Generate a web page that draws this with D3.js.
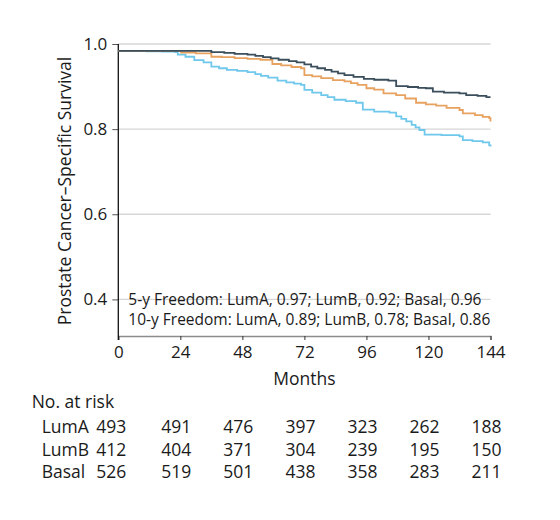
<!DOCTYPE html>
<html>
<head>
<meta charset="utf-8">
<script src="https://cdn.jsdelivr.net/npm/d3@7"></script>
<style>
  html, body { margin: 0; padding: 0; background: #fff; }
  svg { display: block; font-family: "Open Sans", sans-serif; }
</style>
</head>
<body>
<svg id="chart" width="560" height="520"></svg>
<script>
// ---- data ----
const lumaMonths = [0,36,41,45,50,53,56,59,62,66,69,72,74.6,77,80,82.5,85,87.5,91,95,99,104.5,107.5,112,116,119,121.7,126,132,134.6,139,142.4,144];
const lumaSurv   = [0.984,0.981,0.979,0.977,0.975,0.972,0.969,0.966,0.963,0.960,0.957,0.952,0.947,0.943,0.939,0.935,0.931,0.927,0.923,0.918,0.916,0.914,0.901,0.899,0.897,0.896,0.888,0.886,0.884,0.880,0.878,0.875,0.875];

const basalMonths = [0,24.3,30,36,40,45,50,55,59.6,63,67,70.7,72,75,78.5,83,87.5,90,92.6,96,99,102.6,107.5,111,115.2,119,123,127,132,133.3,138,141,143.5,144];
const basalSurv   = [0.984,0.980,0.978,0.970,0.969,0.967,0.965,0.963,0.953,0.950,0.946,0.943,0.927,0.924,0.920,0.915,0.912,0.908,0.904,0.896,0.893,0.884,0.880,0.872,0.862,0.858,0.855,0.850,0.845,0.837,0.833,0.829,0.826,0.818];

const lumbMonths = [0,11,17,22,23,26,29.4,33,36,39,42,46,50,53,55.2,58,61.6,65,68,70.7,72,75,78.5,81,83.6,88,92,94.6,99,104.9,107.5,109.5,111.4,113.5,115,116.5,118.5,125,132,133.3,137,141,143.5,144];
const lumbSurv   = [0.984,0.983,0.982,0.981,0.975,0.970,0.962,0.957,0.947,0.943,0.939,0.937,0.934,0.929,0.925,0.921,0.914,0.910,0.907,0.904,0.892,0.886,0.880,0.875,0.869,0.866,0.862,0.846,0.841,0.839,0.830,0.824,0.818,0.810,0.804,0.798,0.787,0.786,0.783,0.774,0.772,0.769,0.762,0.759];

const xTicks = [0,24,48,72,96,120,144];
const yTicks = [0.4,0.6,0.8,1.0];

const riskGroups = ["LumA","LumB","Basal"];
const riskLumA  = [493,491,476,397,323,262,188];
const riskLumB  = [412,404,371,304,239,195,150];
const riskBasal = [526,519,501,438,358,283,211];

const annotLines = [
  "5-y Freedom: LumA, 0.97; LumB, 0.92; Basal, 0.96",
  "10-y Freedom: LumA, 0.89; LumB, 0.78; Basal, 0.86"
];

// ---- drawing ----
const svg = d3.select("#chart");
const x = d3.scaleLinear().domain([0,144]).range([118.3,490.5]);
const y = d3.scaleLinear().domain([0.314,1.0]).range([336,44]);

const textColor = "#1a1a1a";

// gridlines
svg.append("g").selectAll("line").data(yTicks).join("line")
  .attr("x1", x(0)).attr("x2", x(144))
  .attr("y1", d => y(d)).attr("y2", d => y(d))
  .attr("stroke", "#d6d6d6").attr("stroke-width", 1.4);

// x axis
const xAxis = svg.append("g").attr("transform", `translate(0,${y(0.314)})`)
  .call(d3.axisBottom(x).tickValues(xTicks).tickSize(4).tickPadding(6).tickFormat(d3.format("d")));
xAxis.select(".domain").attr("stroke", "#8c8c8c").attr("stroke-width", 1.4);
xAxis.selectAll(".tick line").attr("stroke", "#333");
xAxis.selectAll("text").attr("font-size", 17).attr("fill", textColor)
  .attr("font-family", "Open Sans, sans-serif");

// y axis
const yAxis = svg.append("g").attr("transform", `translate(${x(0)},0)`)
  .call(d3.axisLeft(y).tickValues(yTicks).tickSize(6).tickPadding(5).tickFormat(d3.format(".1f")));
yAxis.select(".domain").remove();
yAxis.selectAll(".tick line").attr("stroke", "#555");
yAxis.selectAll("text").attr("font-size", 17).attr("fill", textColor)
  .attr("font-family", "Open Sans, sans-serif");
svg.append("line")
  .attr("x1", x(0)).attr("x2", x(0))
  .attr("y1", y(1.0)).attr("y2", y(0.314) + 4)
  .attr("stroke", "#111").attr("stroke-width", 1.3);

// curves
const series = [
  {months: lumaMonths, surv: lumaSurv, color: "#3b4e5b"},
  {months: basalMonths, surv: basalSurv, color: "#e8a260"},
  {months: lumbMonths, surv: lumbSurv, color: "#6fc8ec"}
];
const line = d3.line().x(d => x(d[0])).y(d => y(d[1])).curve(d3.curveStepAfter);
[series[2], series[1], series[0]].forEach(s => {
  svg.append("path")
    .datum(s.months.map((m,i) => [m, s.surv[i]]))
    .attr("d", line)
    .attr("fill", "none")
    .attr("stroke", s.color)
    .attr("stroke-width", 1.8);
});

// annotation
svg.append("g").selectAll("text").data(annotLines).join("text")
  .attr("x", 128.3).attr("y", (d,i) => 305 + i*20)
  .attr("font-size", 15.5).attr("fill", textColor)
  .text(d => d);

// axis titles
svg.append("text")
  .attr("x", x(72)).attr("y", 385)
  .attr("text-anchor", "middle").attr("font-size", 17.5).attr("fill", textColor)
  .text("Months");
svg.append("text")
  .attr("transform", `translate(71,191) rotate(-90)`)
  .attr("text-anchor", "middle").attr("font-size", 17.5).attr("fill", textColor)
  .text("Prostate Cancer\u2013Specific Survival");

// risk table
svg.append("text").attr("x", 31.7).attr("y", 408)
  .attr("font-size", 17.5).attr("fill", textColor).text("No. at risk");
const riskRows = [riskLumA, riskLumB, riskBasal];
const rowY = [433, 456, 478];
riskRows.forEach((row, r) => {
  svg.append("text").attr("x", 41.7).attr("y", rowY[r])
    .attr("font-size", 17.5).attr("fill", textColor).text(riskGroups[r]);
  svg.append("g").selectAll("text").data(row).join("text")
    .attr("x", (d,i) => x(xTicks[i]) - (i === 0 ? 7 : 4))
    .attr("y", rowY[r])
    .attr("text-anchor", "middle")
    .attr("font-size", 17.5).attr("fill", textColor)
    .text(d => d);
});
</script>
</body>
</html>
